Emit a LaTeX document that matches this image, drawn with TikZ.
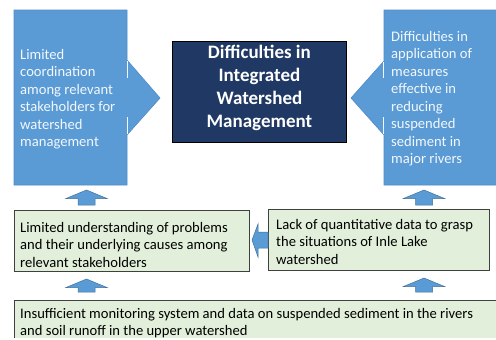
\documentclass[tikz,border=0pt]{standalone}
\usepackage{fontspec}
\setmainfont{Carlito}
\definecolor{calloutblue}{HTML}{5B9BD5}
\definecolor{calloutedge}{HTML}{4F8BC9}
\definecolor{arrowedge}{HTML}{41719C}
\definecolor{navy}{HTML}{1F3864}
\definecolor{palegreen}{HTML}{E2EFDA}
\definecolor{boxedge}{HTML}{404040}
\tikzset{
  calloutshape/.style={fill=calloutblue, draw=calloutedge, line width=0.6bp, line join=miter},
  headgap/.style={draw=white!92!calloutblue, line width=0.9bp},
  blockarrow/.style={fill=calloutblue, draw=arrowedge, line width=0.5bp, line join=miter},
  greenbox/.style={rectangle, fill=palegreen, draw=boxedge, line width=0.8bp, inner sep=0pt, anchor=north west},
  goalbox/.style={rectangle, fill=navy, draw=black, line width=0.8bp, inner sep=0pt, anchor=north west},
  bodytext/.style={anchor=north west, inner sep=0pt, align=left,
    font=\fontsize{14.6bp}{17.5bp}\selectfont},
  callouttext/.style={bodytext, text=white!92!calloutblue},
  goaltext/.style={anchor=north, inner sep=0pt, align=center, text=white,
    font=\fontsize{19bp}{23bp}\selectfont\bfseries}
}
% upward block arrow: #1 = centre x, #2 = tip y, #3 = shaft bottom y
\newcommand{\uparrowblock}[3]{%
  \path[blockarrow] (#1,#2) -- ++(20.5,8.5) -- ++(-12,0) -- (#1+8.5,#3)
    -- (#1-8.5,#3) -- (#1-8.5,#2+8.5) -- ++(-12,0) -- cycle;}
\begin{document}
\begin{tikzpicture}[x=1bp,y=-1bp]
\useasboundingbox (0,0) rectangle (496,339);
\clip (0,0) rectangle (496,337);

% left cause, pointing right at the goal
\path[calloutshape] (14,10) -- (127,10) -- (127,60) -- (160,98) -- (127,135)
  -- (127,185) -- (14,185) -- cycle;
\draw[headgap] (127.5,61) -- (127.5,78) (127.5,117) -- (127.5,134);
\node[callouttext] (leftcause) at (20,49)
  {Limited\\coordination\\among relevant\\stakeholders for\\watershed\\management};

% right cause, pointing left at the goal
\path[calloutshape] (384,10) -- (500,10) -- (500,185) -- (384,185) -- (384,135)
  -- (351,98) -- (384,61) -- cycle;
\draw[headgap] (383.5,62) -- (383.5,78) (383.5,117) -- (383.5,134);
\node[callouttext] (rightcause) at (391,31)
  {Difficulties in\\application of\\measures\\effective in\\reducing\\suspended\\sediment in\\major rivers};

% central goal
\node[goalbox, minimum width=174bp, minimum height=101bp] (goal) at (172,41) {};
\node[goaltext] (goaltxt) at (goal.north |- 0,45)
  {Difficulties in\\Integrated\\Watershed\\Management};

% second level
\node[greenbox, minimum width=235bp, minimum height=61bp] (understand) at (14,210) {};
\node[bodytext] (understandtxt) at (20,222)
  {Limited understanding of problems\\and their underlying causes among\\relevant stakeholders};
\node[greenbox, minimum width=221bp, minimum height=61bp] (quantdata) at (268,209) {};
\node[bodytext] (quantdatatxt) at (276,219)
  {Lack of quantitative data to grasp\\the situations of Inle Lake\\watershed};

% root cause
\node[greenbox, minimum width=490bp, minimum height=50bp] (monitoring) at (14,300) {};
\node[bodytext] (monitoringtxt) at (20,308)
  {Insufficient monitoring system and data on suspended sediment in the rivers\\and soil runoff in the upper watershed};

% block arrows between the levels
\uparrowblock{86.5}{190}{205}
\uparrowblock{424}{190}{205}
\uparrowblock{86.5}{279}{292}
\uparrowblock{424}{278}{292}
\path[blockarrow] (quantdata.west |- 0,232) -- (258,232) -- (258,224) -- (252,240)
  -- (258,257) -- (258,248) -- (quantdata.west |- 0,248) -- cycle;
\end{tikzpicture}
\end{document}
